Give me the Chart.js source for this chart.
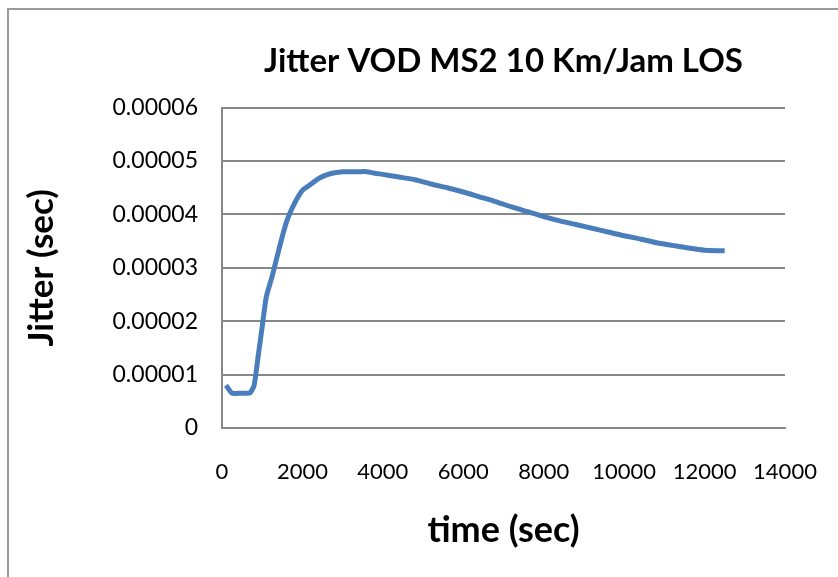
<!DOCTYPE html>
<html>
<head>
<meta charset="utf-8">
<script src="https://cdn.jsdelivr.net/npm/chart.js@4/dist/chart.umd.min.js"></script>
<style>
  html, body { margin: 0; padding: 0; background: #fff; }
  #wrap { position: relative; width: 838px; height: 577px; overflow: hidden; }
  #frame {
    position: absolute; left: 7px; top: 8px; width: 840px; height: 580px;
    border-left: 2px solid #9a9a9a; border-top: 2px solid #9a9a9a;
    pointer-events: none;
  }
  canvas { position: absolute; left: 0; top: 0; }
</style>
</head>
<body>
<div id="wrap">
  <canvas id="jitterChart" width="838" height="577"></canvas>
  <div id="frame"></div>
</div>
<script>
(() => {
  const timeSec = [
    100, 250, 400, 550, 700, 800, 900, 1000, 1100, 1250, 1400, 1600, 1800,
    2000, 2200, 2400, 2600, 2800, 3000, 3200, 3400, 3600, 3800, 4000,
    4400, 4800, 5200, 5600, 6000, 6400, 6800, 7200, 7600, 8000, 8400,
    8800, 9200, 9600, 10000, 10400, 10800, 11200, 11600, 12000, 12400, 12500
  ];
  const jitterSec = [
    0.0000080, 0.0000065, 0.0000065, 0.0000065, 0.0000066, 0.0000080,
    0.0000135, 0.0000190, 0.0000245, 0.0000285, 0.0000330, 0.0000385,
    0.0000420, 0.0000445, 0.0000456, 0.0000467, 0.0000474, 0.0000478,
    0.0000480, 0.0000480, 0.0000480, 0.0000480, 0.0000477, 0.0000475,
    0.0000470, 0.0000465, 0.0000457, 0.0000450, 0.0000442, 0.0000433,
    0.0000424, 0.0000414, 0.0000405, 0.0000396, 0.0000388, 0.0000381,
    0.0000374, 0.0000367, 0.0000360, 0.0000354, 0.0000347, 0.0000342,
    0.0000337, 0.0000333, 0.0000332, 0.0000332
  ];
  const xTicks = [0, 2000, 4000, 6000, 8000, 10000, 12000, 14000];
  const yTickLabels = ["0", "0.00001", "0.00002", "0.00003", "0.00004", "0.00005", "0.00006"];

  const points = timeSec.map((t, i) => ({ x: t, y: jitterSec[i] }));
  const font = "Lato, 'Open Sans', sans-serif";
  const gridColor = "#878787";

  new Chart(document.getElementById("jitterChart"), {
    type: "line",
    data: {
      datasets: [
        {
          label: "Jitter",
          data: points,
          borderColor: "#4a7ebb",
          borderWidth: 5,
          pointRadius: 0,
          tension: 0.2,
          fill: false
        }
      ]
    },
    options: {
      responsive: false,
      animation: false,
      layout: { padding: { left: 0, right: 53, top: 0, bottom: 0 } },
      plugins: {
        legend: { display: false },
        tooltip: { enabled: false },
        title: {
          display: true,
          fullSize: false,
          text: "Jitter VOD MS2 10 Km/Jam LOS",
          color: "#000",
          font: { family: font, size: 33, weight: "bold" },
          padding: { top: 42, bottom: 26 }
        }
      },
      scales: {
        x: {
          type: "linear",
          min: 0,
          max: 14000,
          afterBuildTicks: (scale) => {
            scale.ticks = xTicks.map((v) => ({ value: v }));
          },
          afterFit: (scale) => {
            scale.height = 149;
            scale.paddingLeft = 0;
            scale.paddingRight = 0;
          },
          ticks: {
            color: "#000",
            padding: 31,
            maxRotation: 0,
            font: { family: font, size: 22 },
            callback: (v) => String(v)
          },
          grid: { display: false, drawTicks: false },
          border: { display: true, color: gridColor, width: 2 },
          title: {
            display: true,
            text: "time (sec)",
            color: "#000",
            font: { family: font, size: 36, weight: "bold" },
            padding: { top: 0, bottom: 25 }
          }
        },
        y: {
          type: "linear",
          min: 0,
          max: 0.00006,
          afterBuildTicks: (scale) => {
            scale.ticks = yTickLabels.map((s) => ({ value: Number(s) }));
          },
          afterFit: (scale) => {
            scale.width = 222;
          },
          ticks: {
            color: "#000",
            padding: 24,
            font: { family: font, size: 23 },
            callback: (v, i) => yTickLabels[i]
          },
          grid: { color: gridColor, lineWidth: 2, drawTicks: false },
          border: { display: true, color: gridColor, width: 2 },
          title: {
            display: true,
            text: "Jitter (sec)",
            color: "#000",
            font: { family: font, size: 35, weight: "bold" },
            padding: { top: 21, bottom: 0 }
          }
        }
      }
    }
  });
})();
</script>
</body>
</html>
